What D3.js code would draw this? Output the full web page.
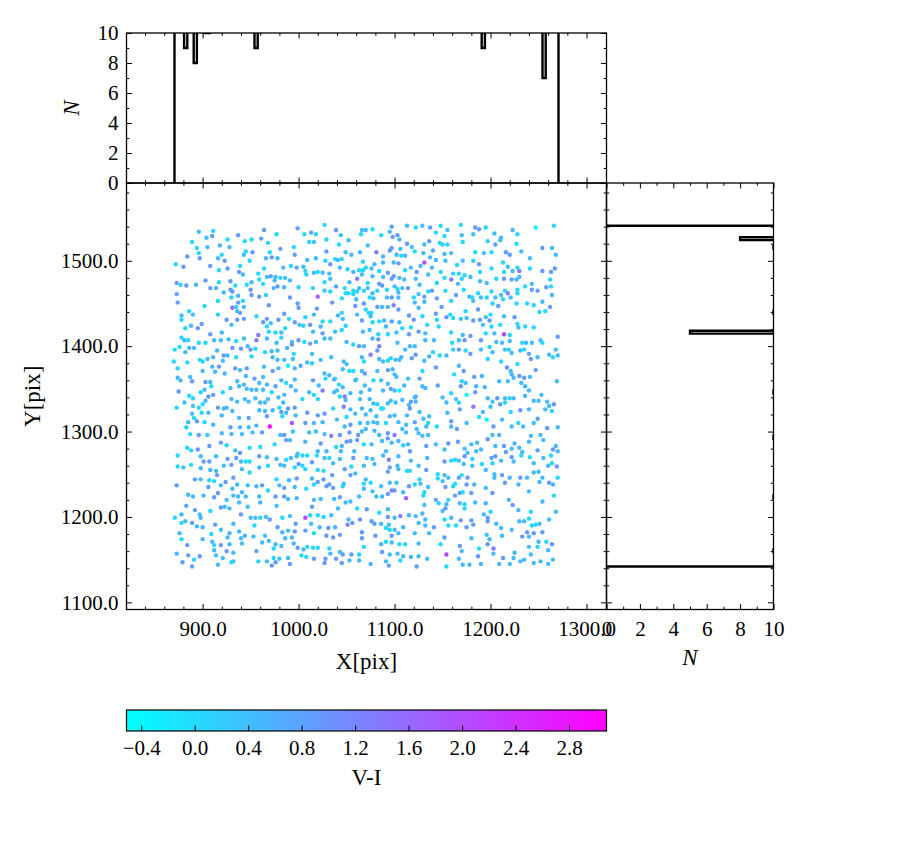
<!DOCTYPE html>
<meta charset="utf-8">
<script src="https://d3js.org/d3.v7.min.js"></script>
<style>
body{margin:0;background:#fff}
text{font-family:"Liberation Serif",serif;fill:#000}
</style>
<body>
<script>
// stars: [X pix, Y pix, V-I]
var stars = [
[896,1534,0.45],[904,1527,0.45],[911,1535,0.05],[910,1529,0.9],[889,1522,0.05],[937,1530,0.9],[964,1536,0.9],[977,1531,0.05],[999,1538,0.9],
[894,1515,0.05],[905,1516,0.45],[918,1518,0.45],[926,1525,0.05],[928,1516,0.45],[944,1523,0.05],[951,1525,0.05],[961,1526,0.9],[968,1521,0.05],[981,1514,0.9],[995,1516,0.05],
[896,1509,0.05],[897,1503,0.9],[884,1505,0.9],[916,1503,0.45],[920,1507,0.05],[923,1500,0.9],[943,1507,0.45],[945,1511,0.05],[952,1510,0.9],[949,1500,0.05],[966,1503,0.45],[970,1510,0.05],[972,1504,0.9],[978,1503,0.45],[996,1507,0.9],
[872,1496,0.05],[880,1493,0.9],[908,1494,0.9],[917,1489,0.05],[926,1491,0.9],[939,1494,0.05],[938,1487,0.9],[942,1484,0.45],[958,1485,0.05],[964,1491,0.05],[971,1482,0.9],[967,1481,0.45],[976,1481,0.45],[975,1477,0.45],[981,1480,0.05],[986,1480,0.45],[984,1492,0.45],[992,1494,0.05],[998,1492,0.9],[991,1477,0.45],
[873,1474,0.9],[877,1472,0.05],[883,1471,0.9],[893,1472,0.45],[903,1477,0.9],[917,1475,0.05],[908,1468,0.9],[914,1468,0.45],[929,1476,0.9],[929,1466,0.9],[931,1464,0.9],[934,1471,0.05],[946,1472,0.05],[951,1475,0.45],[950,1466,0.9],[959,1478,0.05],[963,1473,0.05],[974,1468,0.45],[978,1470,0.9],[985,1469,0.45],[1000,1469,0.05],
[873,1461,0.9],[922,1463,0.45],[930,1457,0.05],[937,1459,0.45],[942,1453,0.05],[951,1460,0.9],[959,1458,0.9],[966,1460,0.05],[991,1457,0.9],[874,1451,0.9],[916,1453,0.05],[937,1451,0.9],[969,1448,0.9],[999,1450,0.9],
[902,1447,0.05],[931,1445,1.6],[935,1446,0.05],[943,1446,0.45],[939,1439,0.9],[936,1441,0.45],[1000,1445,0.9],
[878,1436,0.45],[886,1441,0.05],[890,1437,0.45],[916,1437,0.05],[956,1435,0.05],[878,1431,0.05],[925,1431,0.9],[936,1431,0.9],[943,1432,0.9],[967,1432,0.9],[963,1428,0.9],[971,1427,0.45],[979,1431,0.9],[985,1438,0.9],[990,1432,0.05],[996,1428,0.9],[1001,1425,0.45],
[882,1421,0.05],[888,1424,0.45],[895,1421,0.9],[899,1426,0.9],[920,1416,0.45],[930,1425,0.45],[967,1423,0.05],[969,1417,0.05],[976,1416,0.05],[982,1416,0.45],[986,1421,0.05],[908,1414,0.9],[958,1413,1.3],
[1027,1542,0.05],[1006,1531,0.05],[1013,1533,0.9],[1018,1531,0.05],[1039,1536,0.9],[1044,1530,0.45],[1066,1536,0.45],[1070,1536,0.45],[1077,1537,0.05],[1065,1531,0.05],[1097,1540,0.9],[1098,1528,0.9],[1103,1530,0.9],[1113,1541,0.45],[1122,1539,0.05],[1129,1541,0.45],[1137,1539,0.9],
[1011,1522,0.05],[1016,1522,0.45],[1029,1525,0.05],[1042,1519,0.05],[1052,1524,0.45],[1072,1518,0.45],[1086,1530,0.05],[1095,1534,0.45],[1105,1525,0.45],[1113,1520,0.9],[1118,1516,0.45],[1131,1519,0.45],[1136,1523,0.9],
[1029,1511,0.9],[1049,1510,0.45],[1055,1507,0.45],[1064,1510,0.45],[1081,1510,1.3],[1088,1505,0.45],[1095,1512,0.9],[1097,1515,0.9],[1102,1507,0.45],[1106,1514,0.45],[1107,1506,0.05],[1111,1506,0.45],[1121,1511,0.05],[1130,1509,0.45],
[1009,1501,0.45],[1018,1503,0.45],[1028,1500,0.05],[1033,1496,0.9],[1038,1502,0.05],[1041,1501,0.45],[1045,1502,0.05],[1067,1499,0.05],[1079,1496,0.45],[1088,1498,0.45],[1099,1498,0.45],[1104,1497,0.9],[1131,1498,1.9],[1137,1504,0.45],
[1005,1493,0.45],[1007,1488,0.05],[1008,1484,0.05],[1016,1486,0.45],[1020,1487,0.05],[1025,1486,0.45],[1032,1485,0.45],[1033,1479,0.45],[1043,1492,0.45],[1051,1490,0.05],[1057,1487,0.45],[1063,1489,0.05],[1067,1489,0.05],[1070,1492,0.05],[1076,1491,0.45],[1066,1484,0.45],[1077,1482,0.45],[1084,1488,0.05],[1093,1486,0.9],[1088,1481,0.45],[1097,1479,0.9],[1099,1482,0.9],[1105,1480,0.45],[1110,1478,0.45],[1111,1489,0.05],[1117,1492,0.45],[1122,1479,0.45],[1123,1487,0.9],[1127,1494,0.45],[1135,1484,0.45],
[1015,1468,0.05],[1027,1475,0.05],[1039,1470,0.9],[1053,1475,0.45],[1057,1465,0.05],[1061,1479,1.3],[1063,1468,0.45],[1072,1474,0.05],[1072,1468,0.45],[1084,1473,0.9],[1087,1471,0.9],[1092,1466,0.05],[1100,1470,0.45],[1103,1467,0.05],[1108,1468,0.45],[1114,1468,0.9],[1126,1472,0.45],
[1027,1465,0.45],[1033,1464,0.05],[1048,1468,0.05],[1049,1462,0.05],[1052,1462,0.05],[1057,1461,0.05],[1061,1464,0.05],[1068,1465,0.05],[1077,1462,0.45],[1082,1465,0.05],[1092,1457,0.45],[1104,1463,0.45],[1097,1457,0.9],[1104,1457,0.45],[1120,1457,0.05],[1125,1461,0.45],[1131,1458,0.9],[1135,1464,0.05],
[1020,1458,1.7],[1035,1451,0.9],[1045,1456,0.05],[1060,1455,0.45],[1068,1450,0.9],[1074,1457,0.05],[1078,1456,0.45],[1087,1446,0.45],[1099,1448,1.3],[1121,1451,0.45],[1125,1445,0.45],[1131,1452,0.45],
[1019,1444,0.9],[1007,1434,0.05],[1016,1437,0.45],[1041,1436,0.45],[1045,1439,0.05],[1059,1447,0.9],[1061,1437,0.45],[1070,1443,0.05],[1073,1439,0.05],[1076,1439,0.05],[1075,1435,0.45],[1082,1446,0.9],[1093,1446,0.45],[1104,1443,0.9],[1115,1436,0.9],[1129,1435,0.05],
[1005,1424,0.05],[1012,1425,0.9],[1025,1429,0.05],[1033,1429,0.05],[1046,1432,0.45],[1066,1430,0.9],[1077,1428,0.05],[1084,1429,0.05],[1089,1430,0.45],[1091,1423,0.45],[1097,1429,0.9],[1105,1428,0.45],[1120,1431,0.9],[1117,1422,0.05],[1134,1425,0.05],
[1015,1417,0.45],[1023,1423,0.45],[1025,1415,0.9],[1038,1417,0.45],[1045,1419,0.05],[1049,1424,0.05],[1067,1417,0.45],[1074,1419,0.45],[1083,1414,0.05],[1093,1414,0.05],[1102,1416,0.45],[1108,1421,0.05],[1115,1414,0.9],[1125,1417,0.9],[1132,1415,0.45],
[1148,1541,0.05],[1169,1542,0.05],[1184,1539,0.9],[1188,1537,0.9],[1195,1539,0.05],[1247,1539,-0.4],[1266,1541,0.05],
[1143,1533,0.05],[1152,1529,0.05],[1155,1536,0.45],[1170,1530,0.45],[1182,1531,0.45],[1204,1532,0.45],[1211,1527,0.45],[1223,1536,0.45],[1228,1531,0.05],
[1147,1521,0.05],[1150,1519,0.05],[1155,1519,0.05],[1171,1522,0.05],[1197,1523,0.05],[1205,1519,0.9],[1210,1524,0.45],[1227,1520,0.05],
[1140,1512,0.9],[1152,1508,0.45],[1159,1509,0.45],[1184,1510,0.05],[1193,1509,0.45],[1201,1510,0.05],[1216,1510,0.9],[1220,1507,0.9],[1232,1511,0.45],[1254,1515,0.9],[1264,1515,0.45],[1268,1507,0.45],
[1143,1501,0.45],[1153,1500,0.45],[1165,1495,0.05],[1171,1500,0.45],[1182,1500,0.05],[1188,1496,0.9],[1213,1498,0.05],[1218,1493,0.45],[1241,1503,0.45],
[1139,1492,0.45],[1148,1487,0.05],[1161,1485,0.05],[1167,1485,0.05],[1189,1487,0.05],[1201,1491,0.05],[1214,1487,0.05],[1223,1488,0.45],[1228,1492,0.05],[1230,1488,1.3],[1241,1491,0.05],[1254,1488,0.9],[1263,1487,0.9],[1267,1491,0.9],
[1144,1474,0.05],[1152,1480,0.05],[1159,1478,1.3],[1166,1473,0.45],[1170,1479,0.05],[1173,1483,0.05],[1179,1481,0.45],[1189,1476,0.45],[1196,1474,0.45],[1206,1479,0.05],[1214,1479,0.9],[1222,1478,0.9],[1227,1478,0.45],[1230,1481,0.45],[1236,1470,0.05],[1243,1473,0.45],[1262,1478,0.05],[1263,1470,0.05],[1258,1469,0.9],
[1139,1465,0.9],[1153,1465,0.05],[1164,1460,0.9],[1172,1466,0.05],[1178,1458,0.45],[1181,1457,0.05],[1187,1462,0.05],[1190,1457,0.45],[1196,1457,0.05],[1201,1464,0.05],[1205,1457,0.45],[1211,1460,0.45],[1213,1455,0.05],[1215,1465,0.05],[1218,1462,1.3],[1221,1457,0.45],[1228,1466,0.05],[1228,1462,0.05],[1243,1466,0.9],[1249,1465,0.9],[1264,1460,0.45],
[1144,1456,0.9],[1159,1453,0.05],[1182,1453,0.45],[1202,1450,0.05],[1208,1447,0.9],[1227,1450,0.05],[1238,1450,0.05],[1245,1448,0.05],[1254,1452,0.45],[1262,1446,0.9],
[1149,1446,0.9],[1174,1441,0.05],[1187,1443,0.9],[1200,1437,0.05],[1214,1435,0.45],[1225,1434,0.9],[1251,1440,0.05],[1257,1441,0.05],
[1143,1438,0.9],[1154,1434,0.9],[1158,1437,0.05],[1161,1433,0.05],[1169,1432,0.45],[1175,1433,0.45],[1182,1430,0.9],[1189,1431,0.9],[1195,1434,0.45],[1199,1430,0.9],[1192,1425,0.45],[1201,1423,0.05],[1210,1425,0.05],[1144,1431,0.05],[1146,1423,0.05],[1228,1426,0.05],[1229,1422,0.45],[1236,1423,0.05],[1245,1422,0.05],
[1159,1416,0.05],[1171,1413,0.45],[1179,1412,0.9],[1195,1415,0.05],[1204,1415,0.45],[1214,1414,2.0],[1220,1413,0.05],
[878,1410,0.05],[881,1407,0.45],[885,1407,0.05],[896,1404,0.05],[903,1404,0.05],[912,1407,0.45],[919,1407,0.45],[927,1408,0.45],[935,1406,0.05],[943,1409,0.45],[956,1407,1.3],[967,1409,0.45],[977,1404,0.45],[982,1410,0.05],[993,1405,0.45],[1000,1407,0.9],
[871,1396,0.05],[876,1399,0.05],[882,1393,0.45],[886,1398,0.45],[891,1398,0.45],[915,1395,0.45],[922,1389,0.9],[926,1389,0.45],[931,1398,0.9],[940,1397,0.9],[947,1400,0.45],[950,1396,0.9],[955,1397,0.05],[965,1393,0.05],[972,1394,0.45],[978,1395,0.45],[988,1398,0.45],[993,1402,0.9],[995,1391,0.05],
[870,1382,0.05],[884,1381,0.05],[897,1384,0.05],[900,1382,0.05],[905,1385,0.45],[911,1387,0.45],[921,1383,0.45],[935,1387,0.05],[951,1388,0.05],[973,1387,0.45],[978,1384,0.45],[985,1384,0.45],[994,1385,0.45],
[874,1374,0.05],[900,1371,0.45],[910,1376,0.45],[917,1376,0.9],[934,1374,0.9],[939,1372,0.45],[946,1374,0.9],[964,1376,0.45],[973,1371,0.9],[979,1374,0.45],[989,1377,-0.4],[996,1374,0.45],
[874,1363,0.45],[877,1360,0.45],[887,1364,0.45],[889,1359,0.9],[903,1358,0.9],[908,1358,0.45],[913,1370,0.45],[923,1368,0.45],[936,1359,0.45],[945,1365,0.45],[954,1362,0.9],[963,1364,0.45],[967,1355,0.45],[959,1357,0.45],[982,1360,0.45],[987,1357,0.05],[996,1361,0.45],
[875,1347,0.9],[886,1342,0.05],[890,1339,0.05],[898,1346,0.05],[902,1349,0.45],[909,1353,0.05],[921,1346,0.05],[929,1351,0.45],[938,1353,0.45],[943,1355,0.45],[946,1350,0.45],[951,1349,0.45],[956,1349,0.45],[963,1349,0.45],[972,1346,0.05],[976,1353,0.9],[985,1343,0.45],[992,1353,0.45],[997,1348,0.45],
[873,1328,0.05],[881,1334,0.45],[890,1330,0.45],[896,1328,0.05],[900,1332,0.05],[903,1336,0.45],[906,1341,0.9],[911,1343,0.9],[916,1328,0.9],[925,1328,0.45],[930,1338,0.45],[936,1335,0.45],[944,1338,0.45],[948,1335,0.45],[955,1339,0.45],[960,1334,0.45],[965,1334,0.45],[968,1338,0.45],[979,1340,0.45],[980,1328,0.05],[973,1325,0.45],[984,1334,0.45],[989,1327,0.9],[996,1328,0.9],
[889,1321,0.45],[891,1316,0.05],[899,1322,0.05],[906,1322,0.45],[922,1327,0.45],[920,1319,0.45],[938,1316,0.45],[931,1324,0.45],[948,1316,0.9],[959,1325,0.45],[967,1318,0.9],[965,1324,0.45],[982,1323,0.9],[983,1318,0.05],[987,1322,0.45],[997,1319,0.45],
[883,1305,0.05],[885,1311,0.45],[894,1312,0.9],[902,1311,0.05],[911,1308,0.45],[929,1305,0.9],[939,1305,0.45],[948,1305,0.45],[956,1307,0.45],[970,1306,3.08],[993,1310,1.9],
[887,1297,0.05],[896,1296,0.9],[905,1296,0.05],[920,1298,0.45],[930,1297,0.45],[941,1297,0.45],[952,1299,0.45],[962,1299,0.9],[981,1296,0.45],[985,1296,0.9],[994,1300,0.45],[987,1290,0.9],[991,1290,0.45],
[884,1281,0.05],[888,1278,0.05],[895,1279,0.9],[907,1283,0.9],[919,1287,0.9],[925,1284,0.05],[934,1278,0.45],[939,1275,0.9],[949,1281,0.05],[960,1282,0.05],[975,1285,0.05],[999,1274,0.45],
[1006,1405,0.05],[1012,1403,0.9],[1018,1405,0.45],[1027,1409,0.45],[1033,1409,0.45],[1050,1405,0.45],[1057,1402,0.05],[1063,1400,0.9],[1068,1400,0.45],[1077,1409,0.45],[1083,1408,0.9],[1084,1400,1.3],[1103,1404,0.45],[1111,1396,0.45],[1116,1400,0.45],[1121,1400,0.45],[1132,1407,0.45],
[1014,1391,0.45],[1023,1384,0.45],[1034,1387,0.45],[1047,1382,0.45],[1050,1379,0.45],[1066,1387,0.45],[1068,1382,0.05],[1075,1390,1.3],[1082,1395,0.9],[1084,1385,0.45],[1088,1382,0.45],[1093,1383,0.05],[1096,1386,0.05],[1101,1384,0.45],[1105,1384,0.45],[1107,1387,0.45],[1118,1386,0.9],[1122,1390,0.9],[1131,1383,0.45],[1136,1388,0.45],
[1002,1377,0.9],[1009,1381,0.45],[1014,1380,0.05],[1027,1368,0.45],[1032,1366,0.45],[1038,1362,0.05],[1046,1373,0.45],[1053,1371,0.05],[1057,1371,0.05],[1060,1361,0.45],[1066,1371,0.45],[1069,1368,0.9],[1082,1371,0.45],[1093,1372,0.9],[1098,1373,0.45],[1100,1367,0.45],[1102,1364,0.45],[1114,1362,0.45],[1126,1362,0.9],[1129,1371,0.05],
[1015,1360,0.9],[1021,1354,0.45],[1025,1348,1.3],[1028,1362,0.05],[1037,1361,0.45],[1040,1348,0.45],[1042,1355,0.05],[1046,1352,0.45],[1049,1337,0.45],[1054,1345,0.45],[1059,1360,0.45],[1065,1346,0.45],[1069,1354,0.45],[1074,1349,0.45],[1078,1360,0.05],[1086,1360,0.45],[1088,1348,0.45],[1093,1356,0.45],[1096,1350,0.9],[1100,1348,0.45],[1105,1348,-0.4],[1110,1354,0.45],[1122,1341,0.9],[1129,1353,0.45],[1132,1351,0.45],
[1004,1338,0.05],[1011,1346,0.45],[1016,1343,0.05],[1020,1338,0.05],[1037,1346,0.45],[1043,1341,0.05],[1048,1341,1.3],[1054,1326,0.45],[1064,1338,0.45],[1066,1327,0.45],[1074,1338,0.45],[1078,1333,0.45],[1082,1332,0.05],[1086,1327,0.05],[1093,1333,0.45],[1096,1336,0.45],[1101,1334,0.45],[1108,1337,0.45],[1115,1331,0.45],[1117,1335,0.9],[1122,1335,0.45],[1121,1340,0.45],
[1009,1322,0.9],[1020,1319,0.9],[1027,1321,0.9],[1036,1327,0.05],[1047,1329,1.3],[1050,1317,0.05],[1059,1321,0.45],[1070,1320,0.45],[1075,1325,0.45],[1072,1310,0.45],[1078,1311,0.45],[1081,1318,0.45],[1088,1327,0.05],[1095,1318,0.45],[1100,1319,0.45],[1113,1319,0.45],[1116,1327,0.9],[1126,1323,0.45],[1136,1318,0.45],
[1007,1310,0.9],[1016,1310,0.45],[1025,1311,0.45],[1040,1314,0.45],[1048,1306,0.45],[1054,1308,0.9],[1064,1310,0.45],[1070,1303,0.45],[1082,1310,0.45],[1091,1310,0.05],[1104,1311,0.45],[1112,1308,0.45],[1121,1311,0.9],[1130,1315,0.45],[1135,1310,0.05],[1133,1306,0.45],
[1011,1299,0.45],[1018,1300,0.45],[1027,1297,0.45],[1034,1295,1.3],[1043,1296,0.9],[1053,1299,0.9],[1062,1296,0.9],[1066,1300,0.45],[1079,1301,0.45],[1084,1296,0.45],[1093,1298,0.9],[1100,1296,1.3],[1108,1303,0.45],[1112,1299,0.45],[1123,1303,0.45],[1125,1298,0.45],[1129,1295,0.45],[1135,1296,0.45],
[1007,1288,0.45],[1023,1286,0.9],[1039,1282,0.05],[1045,1283,0.45],[1050,1288,0.9],[1054,1289,0.9],[1061,1290,0.9],[1068,1285,0.05],[1076,1285,0.45],[1087,1289,0.45],[1093,1292,0.9],[1097,1287,0.45],[1104,1289,0.45],[1109,1284,0.05],[1114,1285,0.45],[1133,1283,0.9],
[1020,1277,0.45],[1029,1277,0.45],[1044,1277,0.45],[1058,1277,0.45],[1091,1277,0.45],[1116,1277,0.9],
[1141,1407,0.45],[1160,1404,0.05],[1167,1407,0.45],[1173,1407,0.9],[1190,1407,0.9],[1206,1405,0.45],[1212,1404,0.45],[1220,1406,0.45],[1233,1404,0.05],[1237,1404,0.45],[1243,1404,0.45],[1252,1407,0.45],[1254,1404,0.05],[1270,1411,0.9],
[1140,1393,0.05],[1147,1389,0.05],[1154,1389,0.45],[1161,1396,0.05],[1167,1396,0.9],[1174,1395,0.05],[1179,1391,0.9],[1190,1396,0.45],[1199,1399,0.05],[1202,1393,0.45],[1197,1385,0.05],[1215,1396,0.45],[1219,1396,0.05],[1222,1392,0.45],[1231,1395,0.45],[1235,1396,0.05],[1240,1391,0.9],[1242,1385,0.9],[1249,1387,0.45],[1261,1390,0.45],[1265,1387,0.05],[1268,1396,0.45],[1270,1389,0.45],
[1143,1375,0.9],[1167,1377,0.45],[1172,1371,0.9],[1183,1364,0.9],[1191,1365,0.45],[1209,1359,0.45],[1211,1382,0.05],[1217,1375,0.9],[1221,1371,0.45],[1222,1367,0.45],[1228,1379,0.05],[1230,1365,0.9],[1235,1363,0.9],[1241,1364,0.45],[1247,1372,0.9],[1224,1363,0.45],[1218,1359,0.45],
[1162,1367,0.05],[1145,1354,0.9],[1170,1359,0.05],[1174,1357,0.45],[1169,1353,0.9],[1175,1343,-0.4],[1185,1353,0.45],[1194,1352,0.45],[1184,1346,0.9],[1197,1339,0.45],[1202,1335,0.45],[1207,1339,0.9],[1215,1339,0.45],[1220,1339,0.05],[1224,1339,0.45],[1236,1342,0.45],[1232,1357,0.45],[1236,1353,0.45],[1240,1348,0.45],[1245,1336,0.45],[1250,1336,0.45],[1253,1343,0.45],[1259,1335,0.45],[1261,1330,0.45],[1266,1332,0.9],[1269,1359,0.45],
[1150,1340,0.45],[1154,1334,0.45],[1159,1345,0.05],[1164,1338,0.45],[1167,1334,0.05],[1168,1326,0.9],[1182,1329,1.4],[1192,1323,0.45],[1200,1329,0.45],[1210,1332,0.9],[1215,1334,0.05],[1221,1323,0.05],[1231,1325,0.9],[1240,1326,0.45],[1249,1315,0.9],[1257,1326,0.45],[1264,1324,0.05],
[1155,1322,0.45],[1159,1312,0.9],[1165,1303,0.9],[1144,1306,0.05],[1159,1306,0.45],[1175,1310,0.45],[1188,1317,0.05],[1196,1314,-0.4],[1203,1306,0.9],[1212,1314,0.45],[1222,1306,0.45],[1229,1310,0.05],[1234,1306,0.45],[1245,1310,0.45],[1259,1304,0.9],[1270,1305,0.45],
[1166,1288,0.9],[1173,1280,0.45],[1180,1285,0.45],[1186,1287,0.45],[1197,1291,0.9],[1202,1296,0.45],[1209,1296,0.45],[1205,1283,0.45],[1214,1283,0.9],[1225,1286,0.45],[1230,1281,0.45],[1240,1288,0.45],[1242,1295,0.45],[1252,1296,0.45],[1255,1290,0.45],[1268,1283,0.45],[1265,1279,0.9],
[1143,1285,0.45],[1156,1286,0.9],[1152,1279,0.45],[1176,1275,0.45],[1185,1277,0.45],[1190,1279,0.45],[1216,1276,0.9],[1222,1280,0.45],[1233,1276,0.45],[1249,1278,0.9],[1270,1277,0.45],
[874,1272,0.05],[898,1271,0.45],[901,1265,0.9],[907,1265,0.9],[914,1271,0.45],[926,1268,0.9],[935,1269,0.9],[940,1265,0.45],[945,1265,0.05],[949,1265,0.05],[959,1271,0.9],[967,1270,0.45],[977,1268,0.45],[987,1267,0.05],[992,1269,0.45],[998,1271,0.45],
[874,1259,0.05],[880,1258,0.45],[888,1261,0.05],[898,1257,0.45],[908,1255,0.45],[914,1254,0.45],[922,1260,0.45],[930,1261,0.9],[941,1256,0.45],[949,1252,0.05],[959,1258,0.45],[968,1260,0.05],[981,1261,0.45],[985,1260,0.45],[996,1258,0.05],[1000,1262,0.9],
[892,1244,0.9],[898,1244,0.45],[907,1243,0.05],[912,1242,0.05],[915,1249,0.9],[924,1241,0.9],[932,1246,0.9],[919,1237,0.45],[906,1235,0.9],[931,1233,0.45],[936,1238,0.45],[947,1237,0.45],[956,1236,0.45],[962,1237,0.9],[968,1231,0.05],[977,1244,0.05],[980,1237,0.45],[985,1234,0.9],[990,1243,0.45],[998,1245,0.9],[996,1235,0.45],
[873,1237,0.9],[885,1226,0.45],[890,1224,0.45],[901,1225,0.45],[912,1223,0.9],[916,1228,0.9],[925,1220,0.45],[932,1225,0.45],[937,1224,0.45],[945,1224,0.45],[941,1229,0.45],[938,1217,0.45],[959,1224,0.45],[960,1217,0.45],[976,1224,0.9],[985,1224,0.9],[989,1221,0.45],[998,1222,0.45],
[883,1213,0.9],[892,1208,0.9],[897,1203,0.45],[898,1199,0.45],[908,1207,0.05],[919,1211,0.9],[923,1212,0.45],[928,1210,0.45],[940,1203,0.9],[947,1212,0.45],[950,1199,0.45],[955,1199,0.45],[960,1199,0.05],[966,1200,0.45],[970,1197,0.9],[977,1213,0.45],[983,1199,0.05],[991,1201,0.45],[997,1192,0.9],
[871,1199,0.05],[878,1203,0.45],[878,1193,0.05],[882,1195,0.45],[889,1193,0.9],[894,1189,0.45],[900,1188,0.45],[909,1180,0.05],[913,1191,0.9],[919,1185,0.45],[926,1176,0.45],[928,1181,0.45],[932,1192,0.45],[938,1183,0.45],[940,1175,0.45],[944,1178,0.45],[954,1190,0.05],[978,1188,0.9],[983,1182,0.45],[989,1184,0.45],[993,1176,0.45],[996,1183,0.9],
[876,1181,0.45],[878,1174,0.05],[884,1167,0.9],[900,1174,0.45],[910,1171,0.45],[912,1167,0.05],[919,1167,0.9],[925,1160,0.9],[928,1168,0.45],[932,1158,0.45],[941,1169,0.45],[953,1177,0.45],[956,1160,0.9],[962,1170,0.45],[965,1178,0.45],[969,1172,0.45],[974,1163,0.05],[976,1168,0.45],[982,1166,0.45],[986,1175,0.45],[995,1169,0.45],[999,1164,0.9],
[873,1157,0.45],[885,1155,0.9],[897,1154,0.9],[912,1161,0.45],[914,1155,0.45],[921,1152,0.45],[932,1148,0.45],[958,1148,0.05],[967,1148,0.45],[974,1152,0.05],[976,1147,0.9],[980,1151,0.45],[989,1152,0.45],
[879,1147,0.9],[889,1142,0.9],[891,1150,0.05],[916,1144,0.45],[930,1147,0.05],[972,1143,0.9],[991,1145,0.9],
[1004,1272,0.05],[1009,1272,0.05],[1019,1272,0.05],[1027,1269,0.45],[1032,1269,0.05],[1043,1268,0.45],[1057,1269,0.9],[1071,1269,0.45],[1077,1268,0.45],[1088,1272,0.45],[1094,1267,1.3],[1104,1271,0.45],[1117,1266,0.45],[1134,1269,0.45],
[1004,1260,0.05],[1007,1256,0.05],[1014,1264,0.9],[1020,1255,0.05],[1026,1254,0.05],[1036,1263,0.45],[1048,1256,0.9],[1055,1259,0.05],[1059,1251,0.45],[1068,1260,0.45],[1079,1262,0.45],[1093,1253,0.9],[1095,1258,0.9],[1103,1260,0.45],[1104,1256,0.45],[1113,1254,0.05],[1116,1254,0.05],[1125,1260,0.45],[1133,1255,0.9],
[1008,1233,0.05],[1014,1245,0.45],[1016,1238,0.05],[1020,1241,0.9],[1026,1244,0.9],[1035,1249,0.9],[1032,1238,0.9],[1029,1236,0.9],[1036,1234,0.9],[1046,1236,0.05],[1047,1239,0.45],[1054,1249,0.9],[1068,1239,0.05],[1070,1244,0.45],[1075,1240,0.05],[1068,1233,0.45],[1077,1230,0.45],[1086,1236,0.45],[1095,1240,0.45],[1100,1231,0.9],[1102,1240,0.45],[1109,1229,0.45],[1115,1236,0.9],[1121,1238,0.05],[1126,1244,0.05],[1127,1239,0.45],[1131,1229,0.05],[1135,1235,0.45],
[1023,1221,0.45],[1016,1220,0.45],[1037,1221,0.45],[1043,1223,0.9],[1049,1217,0.45],[1054,1218,0.45],[1041,1210,0.45],[1063,1224,0.45],[1081,1224,0.45],[1087,1224,0.45],[1093,1227,0.9],[1097,1231,1.3],[1112,1222,1.8],[1130,1225,0.05],[1131,1214,0.45],
[1014,1212,0.9],[1007,1199,2.1],[1013,1192,0.45],[1012,1202,0.05],[1020,1202,0.05],[1026,1200,0.05],[1034,1202,0.45],[1038,1188,0.45],[1052,1197,0.45],[1056,1193,0.9],[1061,1210,0.05],[1071,1209,0.9],[1084,1205,0.05],[1093,1209,0.45],[1093,1200,0.9],[1100,1199,0.45],[1106,1201,1.3],[1115,1202,0.45],[1122,1201,0.45],[1129,1204,0.45],[1132,1197,0.45],[1125,1193,0.45],
[1022,1188,0.45],[1031,1187,0.9],[1051,1191,1.3],[1064,1197,0.9],[1076,1195,0.9],[1079,1192,0.9],[1086,1192,0.45],[1094,1191,0.45],[1091,1187,0.05],[1095,1185,0.05],[1100,1185,0.45],[1097,1178,0.9],[1104,1181,0.45],[1109,1188,0.45],[1121,1181,0.45],[1132,1190,0.45],[1136,1181,0.45],
[1007,1184,0.9],[1016,1181,0.05],[1029,1178,0.9],[1036,1176,0.9],[1043,1179,0.9],[1066,1182,0.9],[1066,1175,0.9],[1068,1165,0.05],[1080,1178,0.9],[1086,1168,0.45],[1091,1171,0.05],[1097,1170,0.45],[1105,1168,0.05],[1111,1168,0.05],[1125,1169,0.45],
[1005,1162,0.45],[1009,1165,0.05],[1015,1164,0.05],[1020,1164,0.05],[1032,1163,0.05],[1033,1157,0.45],[1043,1159,0.45],[1046,1156,0.9],[1055,1156,0.9],[1063,1156,0.05],[1063,1149,0.45],[1087,1159,0.9],[1095,1156,0.45],[1103,1157,0.45],[1109,1154,0.45],[1117,1153,0.45],[1125,1154,0.45],[1134,1151,0.45],
[1003,1155,0.05],[1008,1153,0.05],[1016,1151,0.9],[1028,1151,0.9],[1027,1146,0.9],[1039,1151,0.9],[1045,1146,0.9],[1053,1149,0.45],[1075,1145,0.45],[1091,1148,0.45],[1094,1143,0.9],[1106,1149,0.05],[1123,1142,0.9],
[1152,1265,0.9],[1159,1266,0.05],[1163,1267,0.05],[1167,1266,0.45],[1173,1271,0.9],[1172,1262,0.45],[1181,1268,0.05],[1181,1260,0.45],[1191,1262,0.05],[1201,1269,0.9],[1205,1271,0.9],[1202,1263,0.05],[1211,1266,0.45],[1222,1270,0.9],[1224,1265,0.45],[1232,1272,0.05],[1241,1270,0.05],[1245,1263,0.45],[1255,1269,0.45],[1263,1272,0.05],[1264,1263,0.05],[1260,1260,0.45],[1269,1259,0.9],
[1145,1250,0.05],[1145,1245,0.05],[1152,1249,0.45],[1150,1242,0.45],[1156,1246,0.45],[1161,1236,0.05],[1163,1239,0.05],[1167,1246,0.9],[1170,1249,0.05],[1176,1246,0.9],[1175,1238,0.9],[1183,1238,0.45],[1195,1255,0.45],[1204,1250,0.45],[1204,1246,0.45],[1212,1249,0.9],[1220,1246,0.45],[1215,1240,0.9],[1231,1246,0.9],[1238,1246,0.45],[1245,1252,0.45],[1250,1253,0.45],[1251,1241,0.45],[1254,1246,0.45],[1261,1240,0.9],[1265,1238,0.45],[1270,1246,0.05],
[1153,1235,0.9],[1168,1228,0.9],[1163,1225,0.9],[1171,1229,0.05],[1180,1228,0.9],[1195,1234,0.45],[1202,1228,0.9],[1229,1238,0.45],[1240,1230,0.45],[1254,1218,0.45],[1266,1225,0.05],
[1143,1220,0.9],[1146,1216,0.05],[1154,1215,0.45],[1156,1220,0.05],[1153,1210,0.9],[1150,1207,0.45],[1168,1216,0.45],[1173,1215,0.05],[1173,1210,0.05],[1184,1217,0.45],[1195,1216,0.45],[1219,1220,0.45],[1223,1214,0.9],[1229,1208,0.45],[1242,1206,0.05],[1268,1206,0.45],
[1152,1197,0.05],[1159,1199,0.45],[1156,1190,0.05],[1164,1190,0.05],[1169,1196,0.9],[1175,1188,0.9],[1180,1196,0.9],[1182,1191,0.9],[1193,1203,0.45],[1197,1199,0.9],[1197,1195,0.9],[1200,1206,0.05],[1206,1192,0.45],[1211,1187,0.45],[1222,1185,0.45],[1230,1195,0.45],[1235,1195,0.45],[1240,1198,0.05],[1243,1190,0.05],[1247,1191,0.05],[1251,1192,0.45],[1261,1197,0.45],
[1141,1188,0.9],[1152,1176,0.9],[1148,1168,0.05],[1168,1166,0.9],[1180,1175,0.45],[1188,1163,0.05],[1196,1179,0.45],[1199,1174,0.45],[1197,1168,0.9],[1203,1163,1.3],[1203,1157,0.45],[1212,1178,0.45],[1225,1158,0.45],[1233,1177,0.9],[1238,1182,0.9],[1240,1177,0.45],[1245,1181,0.9],[1254,1182,0.9],[1250,1171,0.45],[1240,1165,0.45],[1249,1165,0.05],[1258,1171,0.05],[1264,1168,0.9],[1260,1161,0.45],
[1154,1156,2.1],[1170,1160,0.45],[1167,1151,0.45],[1187,1154,0.9],[1213,1152,0.9],[1224,1152,0.45],[1231,1148,0.45],[1235,1150,0.45],[1242,1156,0.45],[1245,1146,0.45],[1252,1148,0.45],[1260,1145,0.45],[1265,1150,0.45],[1171,1144,0.45],[1178,1144,0.45],[1190,1145,0.45],[1209,1145,0.45],[1220,1145,0.45],[1154,1142,0.05]
];

var xTicks = [900, 1000, 1100, 1200, 1300];
var yTicks = [1100, 1200, 1300, 1400, 1500];
var nTicks = [0, 2, 4, 6, 8, 10];
var cbTicks = [-0.4, 0.0, 0.4, 0.8, 1.2, 1.6, 2.0, 2.4, 2.8];
var viRange = [-0.51, 3.08];

// histogram of X: 120 bins, counts above 10 are off the axis (estimated)
var xHistRange = [870.7, 1270.8];
var xHistCounts = [
14,12,13,9,15,11,8,13,12,10,
10,14,12,16,11,13,15,12,14,11,
13,12,15,11,14,9,12,16,13,11,
15,12,14,13,11,16,12,13,15,12,
11,14,13,12,16,12,15,11,13,14,
12,15,11,13,14,12,16,13,11,15,
13,12,14,11,15,13,12,16,14,12,
11,13,15,12,14,12,13,11,16,13,
14,12,11,15,13,12,14,16,11,13,
12,15,13,11,14,12,9,13,15,12,
14,11,13,16,12,13,15,11,12,14,
13,12,16,11,14,7,12,13,15,14];

// histogram of Y: 120 bins
var yHistRange = [1142, 1541];
var yHistCounts = [
13,15,12,14,11,10,16,12,13,14,
12,13,15,11,14,12,16,13,11,15,
14,12,13,15,10,12,14,11,16,13,
12,14,13,11,15,12,13,16,12,14,
15,11,13,14,12,10,13,15,12,14,
13,16,12,11,14,13,15,12,14,11,
12,10,14,13,15,12,11,16,13,14,
14,12,13,15,11,13,16,12,14,13,
12,15,5,13,14,11,13,15,12,10,
13,14,12,16,11,13,15,12,14,13,
15,12,13,11,14,16,12,13,15,12,
14,13,10,15,12,8,13,14,12,16];

var W = 900, H = 850;
var box = {l: 126.5, r: 606.5, t: 183, b: 609.5};
var topBox = {t: 33, b: 183};
var sideBox = {l: 606.5, r: 773.5};
var cbBox = {t: 710, b: 731};

var svg = d3.select("body").append("svg").attr("width", W).attr("height", H);

var x = d3.scaleLinear().domain([820.7, 1320.8]).range([box.l, box.r]);
var y = d3.scaleLinear().domain([1091.6, 1591.1]).range([box.b, box.t]);
var hy = d3.scaleLinear().domain([0, 10]).range([topBox.b, topBox.t]);
var hx = d3.scaleLinear().domain([0, 10]).range([sideBox.l, sideBox.r]);
var cbx = d3.scaleLinear().domain(viRange).range([box.l, box.r]);
var color = d3.scaleSequential(d3.interpolateRgb("#00ffff", "#ff00ff")).domain(viRange);

var xMinor = d3.range(840, 1320, 20).filter(function(v){ return v % 100; });
var yMinor = d3.range(1100, 1591, 20).filter(function(v){ return v % 100; });
var nMinor = [1, 3, 5, 7, 9];
var fmt1 = d3.format(".1f");

// clip paths
var defs = svg.append("defs");
defs.append("clipPath").attr("id", "clipTop").append("rect")
    .attr("x", box.l).attr("y", topBox.t).attr("width", box.r - box.l).attr("height", topBox.b - topBox.t);
defs.append("clipPath").attr("id", "clipSide").append("rect")
    .attr("x", sideBox.l).attr("y", box.t).attr("width", sideBox.r - sideBox.l).attr("height", box.b - box.t);
var grad = defs.append("linearGradient").attr("id", "cbGrad");
grad.append("stop").attr("offset", "0%").attr("stop-color", color(viRange[0]));
grad.append("stop").attr("offset", "100%").attr("stop-color", color(viRange[1]));

// scatter
svg.append("g").selectAll("circle")
    .data(stars)
  .enter().append("circle")
    .attr("cx", function(d){ return x(d[0]); })
    .attr("cy", function(d){ return y(d[1]); })
    .attr("r", 2.2)
    .attr("fill", function(d){ return color(d[2]); });

// step histograms
function steps(range, counts) {
  var w = (range[1] - range[0]) / counts.length;
  var pts = [[range[0], 0]];
  counts.forEach(function(c, i){
    pts.push([range[0] + i * w, c], [range[0] + (i + 1) * w, c]);
  });
  pts.push([range[1], 0]);
  return pts;
}

svg.append("path")
    .attr("clip-path", "url(#clipTop)")
    .attr("d", d3.line().x(function(d){ return x(d[0]); }).y(function(d){ return hy(d[1]); })(steps(xHistRange, xHistCounts)))
    .attr("fill", "none").attr("stroke", "#000").attr("stroke-width", 2.4);

svg.append("path")
    .attr("clip-path", "url(#clipSide)")
    .attr("d", d3.line().x(function(d){ return hx(d[1]); }).y(function(d){ return y(d[0]); })(steps(yHistRange, yHistCounts)))
    .attr("fill", "none").attr("stroke", "#000").attr("stroke-width", 2.4);

// colorbar
svg.append("rect")
    .attr("x", box.l).attr("y", cbBox.t).attr("width", box.r - box.l).attr("height", cbBox.b - cbBox.t)
    .attr("fill", "url(#cbGrad)").attr("stroke", "#000").attr("stroke-width", 1.2);

// ticks, inward on every side
function ticks(tx, ty, axis, vals, len, format, pad) {
  var g = svg.append("g").attr("transform", "translate(" + tx + "," + ty + ")")
      .call(axis.tickValues(vals).tickSize(-len).tickPadding(pad || 3)
                .tickFormat(format || function(){ return ""; }));
  g.select(".domain").remove();
  g.attr("font-size", null).attr("font-family", null);
  g.selectAll("line").attr("stroke", "#000").attr("stroke-width", 1);
  g.selectAll("text").style("font-size", "21px");
}

var MAJ = 5.5, MIN = 2.8;
// main panel
ticks(0, box.b, d3.axisBottom(x), xTicks, MAJ, fmt1, 12);
ticks(0, box.b, d3.axisBottom(x), xMinor, MIN);
ticks(0, box.t, d3.axisTop(x), xTicks, MAJ);
ticks(0, box.t, d3.axisTop(x), xMinor, MIN);
ticks(box.l, 0, d3.axisLeft(y), yTicks, MAJ, fmt1, 8);
ticks(box.l, 0, d3.axisLeft(y), yMinor, MIN);
ticks(box.r, 0, d3.axisRight(y), yTicks, MAJ);
ticks(box.r, 0, d3.axisRight(y), yMinor, MIN);
// top histogram
ticks(box.l, 0, d3.axisLeft(hy), nTicks, MAJ, d3.format("d"), 8);
ticks(box.l, 0, d3.axisLeft(hy), nMinor, MIN);
ticks(box.r, 0, d3.axisRight(hy), nTicks, MAJ);
ticks(box.r, 0, d3.axisRight(hy), nMinor, MIN);
ticks(0, topBox.b, d3.axisBottom(x), xTicks, MAJ);
ticks(0, topBox.b, d3.axisBottom(x), xMinor, MIN);
ticks(0, topBox.t, d3.axisTop(x), xTicks, MAJ);
ticks(0, topBox.t, d3.axisTop(x), xMinor, MIN);
// side histogram
ticks(0, box.b, d3.axisBottom(hx), nTicks, MAJ, d3.format("d"), 12);
ticks(0, box.b, d3.axisBottom(hx), nMinor, MIN);
ticks(0, box.t, d3.axisTop(hx), nTicks, MAJ);
ticks(0, box.t, d3.axisTop(hx), nMinor, MIN);
ticks(sideBox.l, 0, d3.axisLeft(y), yTicks, MAJ);
ticks(sideBox.l, 0, d3.axisLeft(y), yMinor, MIN);
ticks(sideBox.r, 0, d3.axisRight(y), yTicks, MAJ);
ticks(sideBox.r, 0, d3.axisRight(y), yMinor, MIN);
// colorbar
ticks(0, cbBox.b, d3.axisBottom(cbx), cbTicks, MAJ, fmt1, 9);

// frames
[[box.l, box.t, box.r, box.b], [box.l, topBox.t, box.r, topBox.b], [sideBox.l, box.t, sideBox.r, box.b]]
  .forEach(function(f){
    svg.append("rect").attr("x", f[0]).attr("y", f[1]).attr("width", f[2] - f[0]).attr("height", f[3] - f[1])
        .attr("fill", "none").attr("stroke", "#000").attr("stroke-width", 1.3);
  });

// labels
function label(txt, tx, ty, rot, italic) {
  svg.append("text")
      .attr("transform", "translate(" + tx + "," + ty + ")" + (rot ? " rotate(" + rot + ")" : ""))
      .attr("text-anchor", "middle")
      .style("font-size", "23px")
      .style("font-style", italic ? "italic" : "normal")
      .text(txt);
}
label("X[pix]", (box.l + box.r) / 2, 669);
label("Y[pix]", 40, (box.t + box.b) / 2, -90);
label("N", (sideBox.l + sideBox.r) / 2, 665, 0, true);
label("N", 79, (topBox.t + topBox.b) / 2, -90, true);
label("V-I", (box.l + box.r) / 2, 785);
</script>
</body>
